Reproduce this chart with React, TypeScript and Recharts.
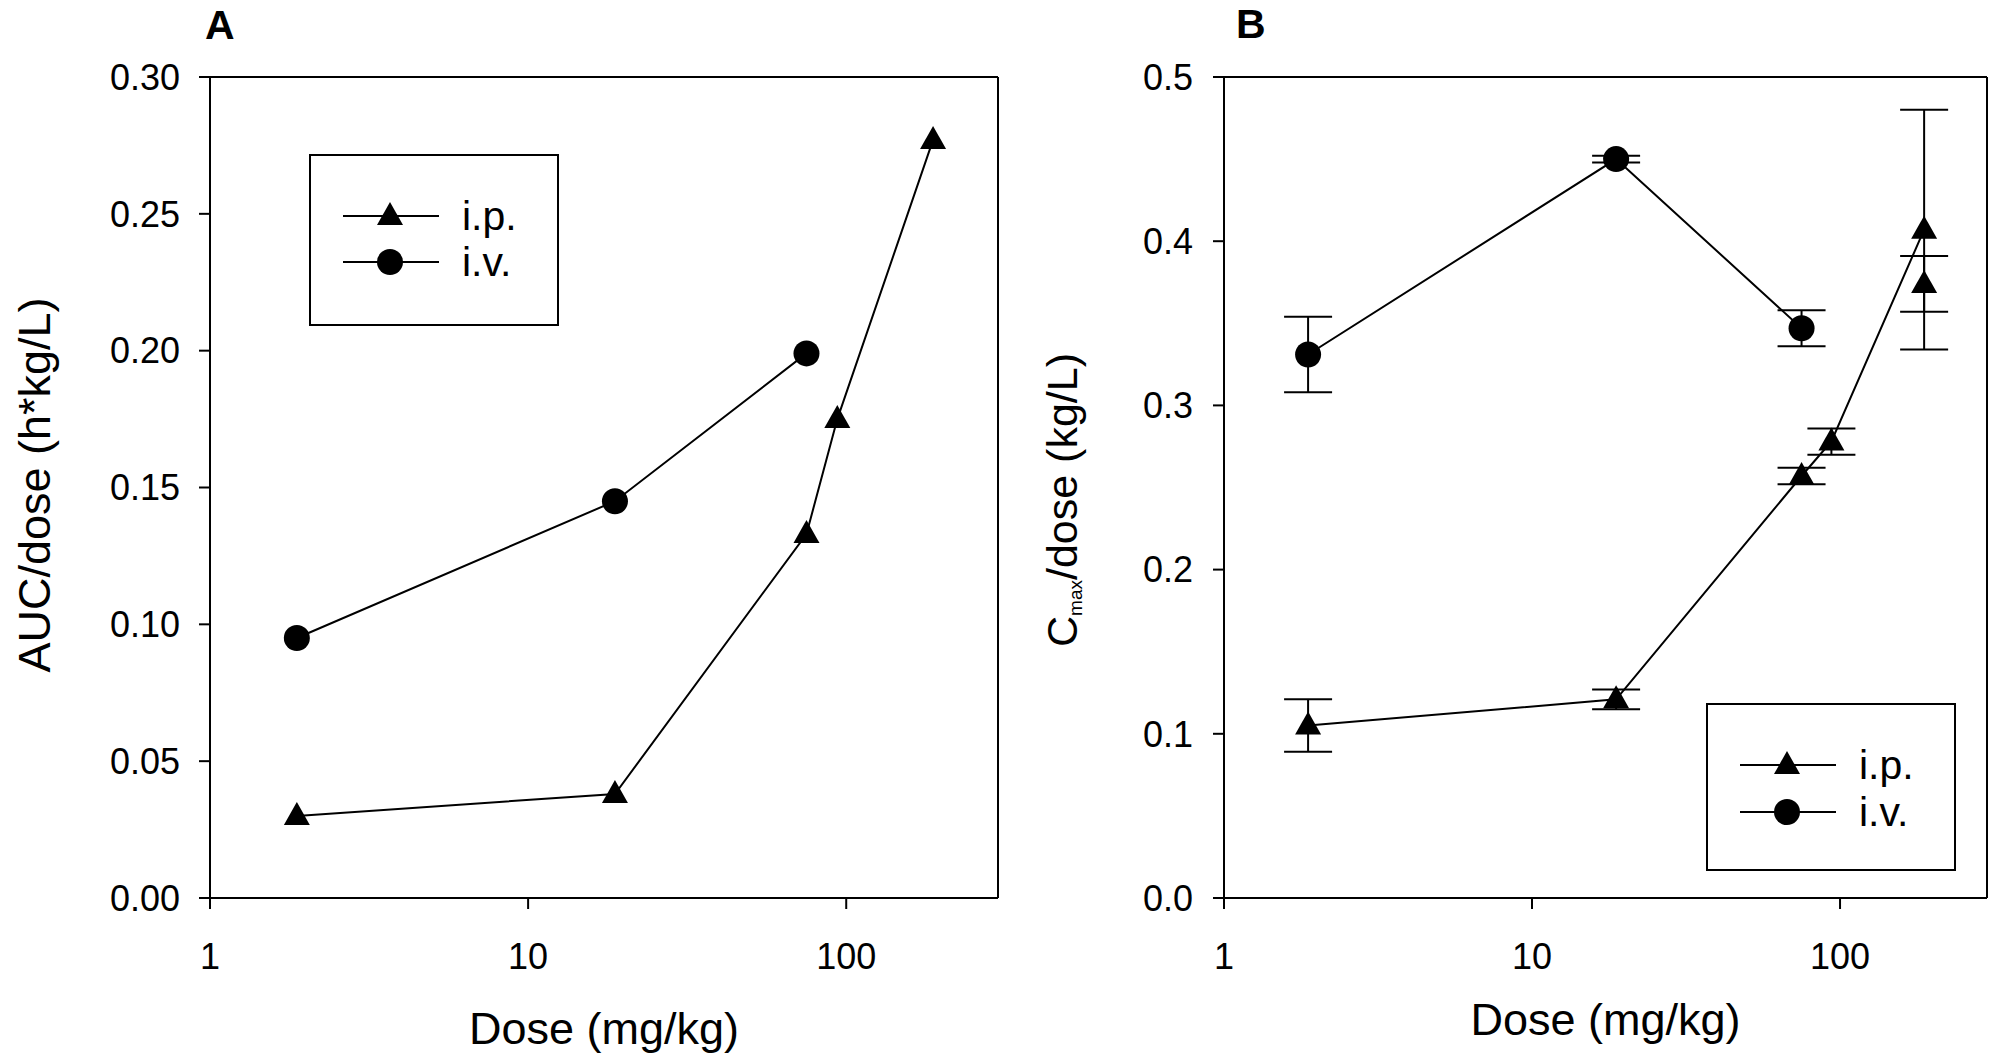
import React from 'react';
import { ScatterChart, Scatter, XAxis, YAxis, ErrorBar, ReferenceLine, Label } from 'recharts';

const FONT = '"Liberation Sans", Arial, Helvetica, sans-serif';

// doses (mg/kg)
const ipDoses = [1.875, 18.75, 75, 93.75, 187.5];
const ivDoses = [1.875, 18.75, 75];
const xTicks = [1, 10, 100];

// panel A: AUC/dose (h*kg/L)
const aucIp = [0.030, 0.038, 0.133, 0.175, 0.277];
const aucIv = [0.095, 0.145, 0.199];
const aucTicks = [0, 0.05, 0.1, 0.15, 0.2, 0.25, 0.3];

// panel B: Cmax/dose (kg/L), mean and sd
const cmaxIp = [0.105, 0.121, 0.257, 0.278, 0.407];
const cmaxIpSd = [0.016, 0.006, 0.005, 0.008, 0.073];
const cmaxIv = [0.331, 0.450, 0.347];
const cmaxIvSd = [0.023, 0.002, 0.011];
// second i.p. value at the top dose, not joined to the line
const extraDose = [187.5];
const cmaxIpExtra = [0.374];
const cmaxIpExtraSd = [0.017];
const cmaxTicks = [0, 0.1, 0.2, 0.3, 0.4, 0.5];

const zip = (xs: number[], ys: number[], sds?: number[]) =>
  xs.map((dose, i) => ({ dose, val: ys[i], sd: sds ? sds[i] : 0 }));

const Triangle = (props: any) => {
  const { cx, cy } = props;
  if (cx == null || cy == null) return null;
  return <polygon points={`${cx},${cy - 14} ${cx - 13},${cy + 9} ${cx + 13},${cy + 9}`} fill="#000" />;
};

const Dot = (props: any) => {
  const { cx, cy } = props;
  if (cx == null || cy == null) return null;
  return <circle cx={cx} cy={cy} r={13} fill="#000" />;
};

const axisStroke = { stroke: '#000', strokeWidth: 2 };
const tickStyle = { fontSize: 36, fill: '#000', fontFamily: FONT };
const line = { stroke: '#000', strokeWidth: 2 };

const xTitle = (baseline: number) => (props: any) => {
  const vb = props.viewBox || {};
  return (
    <text x={vb.x + vb.width / 2} y={baseline} textAnchor="middle" fontSize={45} fontFamily={FONT} fill="#000">
      Dose (mg/kg)
    </text>
  );
};

const aucTitle = () => (
  <text transform="translate(50, 485) rotate(-90)" textAnchor="middle" fontSize={45} fontFamily={FONT} fill="#000">
    AUC/dose (h*kg/L)
  </text>
);

// starts at the bottom and runs upwards
const cmaxTitle = () => (
  <text transform="translate(77, 647) rotate(-90)" textAnchor="start" fontSize={43} fontFamily={FONT} fill="#000">
    C<tspan fontSize={19} dy={5}>max</tspan>
    <tspan dy={-5}>/dose (kg/L)</tspan>
  </text>
);

function PanelA() {
  return (
    <ScatterChart width={1000} height={1064} margin={{ top: 77, right: 2, bottom: 0, left: 0 }}>
      <XAxis
        type="number" dataKey="dose" scale="log" domain={[1, 300]} ticks={xTicks} interval={0}
        tickFormatter={(v) => String(v)} height={166} axisLine={axisStroke} tickLine={axisStroke}
        tickSize={11} tickMargin={34} tick={tickStyle}
      >
        <Label content={xTitle(1044)} />
      </XAxis>
      <YAxis
        type="number" dataKey="val" domain={[0, 0.3]} ticks={aucTicks} interval={0}
        tickFormatter={(v) => Number(v).toFixed(2)} width={210} axisLine={axisStroke} tickLine={axisStroke}
        tickSize={11} tickMargin={19} tick={tickStyle}
      >
        <Label content={aucTitle} />
      </YAxis>
      <ReferenceLine y={0.3} stroke="#000" strokeWidth={2} />
      <ReferenceLine x={300} stroke="#000" strokeWidth={2} />
      <Scatter name="i.v." data={zip(ivDoses, aucIv)} line={line} shape={Dot} isAnimationActive={false} />
      <Scatter name="i.p." data={zip(ipDoses, aucIp)} line={line} shape={Triangle} isAnimationActive={false} />
    </ScatterChart>
  );
}

function PanelB() {
  return (
    <ScatterChart width={1000} height={1064} margin={{ top: 77, right: 13, bottom: 0, left: 0 }}>
      <XAxis
        type="number" dataKey="dose" scale="log" domain={[1, 300]} ticks={xTicks} interval={0}
        tickFormatter={(v) => String(v)} height={166} axisLine={axisStroke} tickLine={axisStroke}
        tickSize={11} tickMargin={34} tick={tickStyle}
      >
        <Label content={xTitle(1035)} />
      </XAxis>
      <YAxis
        type="number" dataKey="val" domain={[0, 0.5]} ticks={cmaxTicks} interval={0}
        tickFormatter={(v) => Number(v).toFixed(1)} width={224} axisLine={axisStroke} tickLine={axisStroke}
        tickSize={11} tickMargin={20} tick={tickStyle}
      >
        <Label content={cmaxTitle} />
      </YAxis>
      <ReferenceLine y={0.5} stroke="#000" strokeWidth={2} />
      <ReferenceLine x={300} stroke="#000" strokeWidth={2} />
      <Scatter name="i.v." data={zip(ivDoses, cmaxIv, cmaxIvSd)} line={line} shape={Dot} isAnimationActive={false}>
        <ErrorBar dataKey="sd" direction="y" width={24} stroke="#000" strokeWidth={2} isAnimationActive={false} />
      </Scatter>
      <Scatter name="i.p." data={zip(ipDoses, cmaxIp, cmaxIpSd)} line={line} shape={Triangle} isAnimationActive={false}>
        <ErrorBar dataKey="sd" direction="y" width={24} stroke="#000" strokeWidth={2} isAnimationActive={false} />
      </Scatter>
      <Scatter name="i.p. extra" data={zip(extraDose, cmaxIpExtra, cmaxIpExtraSd)} shape={Triangle} isAnimationActive={false}>
        <ErrorBar dataKey="sd" direction="y" width={24} stroke="#000" strokeWidth={2} isAnimationActive={false} />
      </Scatter>
    </ScatterChart>
  );
}

// legend box with both series, drawn over the charts
const LegendBox = ({ x, y, w, h, rows }: { x: number; y: number; w: number; h: number; rows: number[] }) => (
  <g>
    <rect x={x} y={y} width={w} height={h} fill="#fff" stroke="#000" strokeWidth={2} />
    {rows.map((ry, i) => (
      <g key={i}>
        <line x1={x + 33} x2={x + 129} y1={ry} y2={ry} stroke="#000" strokeWidth={2} />
        {i === 0 ? <Triangle cx={x + 80} cy={ry} /> : <Dot cx={x + 80} cy={ry} />}
        <text x={x + 152} y={ry + 14} fontSize={41} fontFamily={FONT} fill="#000">
          {i === 0 ? 'i.p.' : 'i.v.'}
        </text>
      </g>
    ))}
  </g>
);

export default function App() {
  return (
    <div style={{ position: 'absolute', left: 0, top: 0, width: 2000, height: 1064, background: '#fff', fontFamily: FONT }}>
      <style>{'body{margin:0}'}</style>
      <div style={{ position: 'absolute', left: 0, top: 0 }}>
        <PanelA />
      </div>
      <div style={{ position: 'absolute', left: 1000, top: 0 }}>
        <PanelB />
      </div>
      <svg width={2000} height={1064} style={{ position: 'absolute', left: 0, top: 0, pointerEvents: 'none' }}>
        <text x={205} y={39} fontSize={41} fontWeight="bold" fontFamily={FONT} fill="#000">A</text>
        <text x={1236} y={38} fontSize={41} fontWeight="bold" fontFamily={FONT} fill="#000">B</text>
        <LegendBox x={310} y={155} w={248} h={170} rows={[216, 262]} />
        <LegendBox x={1707} y={704} w={248} h={166} rows={[765, 812]} />
      </svg>
    </div>
  );
}
